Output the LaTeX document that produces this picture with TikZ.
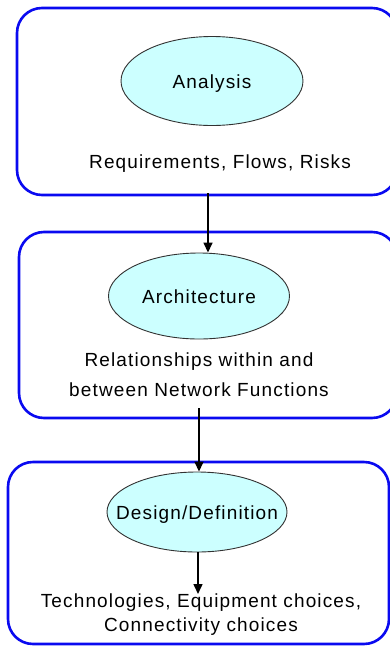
\documentclass[tikz,border=0pt]{standalone}
\usepackage{fontspec}
\setmainfont[LetterSpace=6]{Liberation Sans}
\usetikzlibrary{shapes.geometric,arrows.meta}
\definecolor{boxblue}{RGB}{10,10,240}
\definecolor{ellfill}{RGB}{204,255,255}
\definecolor{ellline}{RGB}{50,50,50}
\tikzset{
  stagebox/.style={draw=boxblue,line width=2.6pt,rounded corners=25pt},
  stageell/.style={ellipse,draw=ellline,line width=0.9pt,fill=ellfill,inner sep=0pt},
  stagelabel/.style={inner sep=0pt,text height=14.5pt,text depth=0pt,font=\fontsize{19}{23}\selectfont},
  desc/.style={anchor=base,align=center,inner sep=0pt,font=\fontsize{19}{23}\selectfont},
  flow/.style={line width=1.5pt,-{Triangle[width=9pt,length=10pt]}}
}
\begin{document}
\begin{tikzpicture}[x=1pt,y=-1pt]
\useasboundingbox (0,0) rectangle (390,646);
\clip (0,0) rectangle (390,646);
% boxes
\draw[stagebox] (17,8) rectangle (397,195);
\draw[stagebox] (19,232) rectangle (397,418);
\draw[stagebox] (8,462) rectangle (389,644);
% ellipses
\node[stageell,minimum width=182pt,minimum height=89pt] (e1) at (212,81) {};
\node[stageell,minimum width=181pt,minimum height=86pt] (e2) at (199,296) {};
\node[stageell,minimum width=180pt,minimum height=80pt] (e3) at (197,512) {};
\node[stagelabel] (l1) at (e1) {Analysis};
\node[stagelabel] (l2) at (e2) {Architecture};
\node[stagelabel] (l3) at (e3) {Design/Definition};
% descriptions
\node[desc] (d1) at (220,168) {Requirements, Flows, Risks};
\node[desc,font=\fontsize{19}{30}\selectfont] (d2) at (199,396) {Relationships within and\\between Network Functions};
\node[desc,font=\fontsize{19}{24}\selectfont] (d3) at (201,631) {Technologies, Equipment choices,\\Connectivity choices};
% connectors
\coordinate (a1) at (208,193);
\coordinate (a2) at (199,408);
\coordinate (a3) at (198,594);
\draw[flow] (a1) -- (a1 |- e2.north);
\draw[flow] (a2) -- (a2 |- e3.north);
\draw[flow] (e3.south -| a3) -- (a3);
\end{tikzpicture}
\end{document}
